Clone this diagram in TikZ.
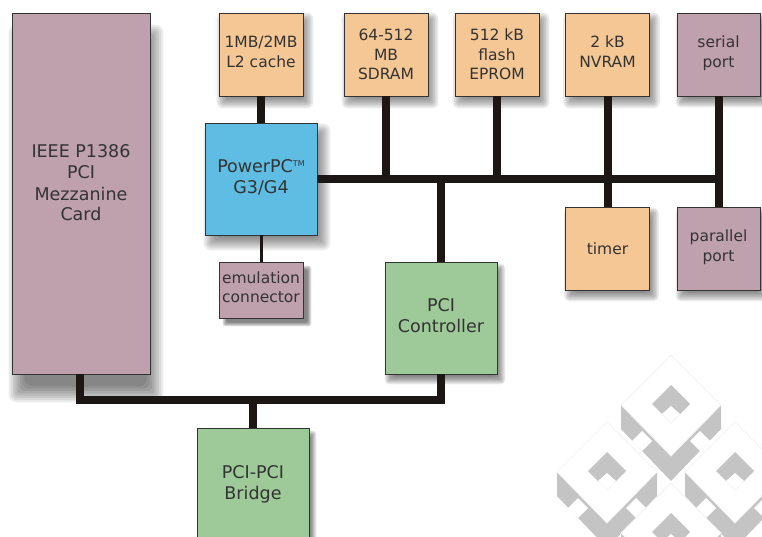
\documentclass[tikz,border=0pt]{standalone}
\usepackage{fontspec}
\setmainfont{DejaVu Sans}
\usetikzlibrary{backgrounds}
\definecolor{mauve}{HTML}{BFA0AD}
\definecolor{peach}{HTML}{F4C795}
\definecolor{skyb}{HTML}{5FBCE2}
\definecolor{leaf}{HTML}{9DCA98}
\definecolor{ink}{HTML}{333333}
\definecolor{wm}{HTML}{C4C4C4}
\definecolor{wmedge}{HTML}{F2F2F2}
\definecolor{busblack}{HTML}{1C1614}
\tikzset{
  x=1pt,y=-1pt,
  boxbase/.style={draw=ink,line width=0.8pt,inner sep=0pt,align=center,text=ink,
    font=\fontsize{15.5}{19.5}\selectfont},
  bigtext/.style={font=\fontsize{17.5}{21}\selectfont},
  mauvebox/.style={boxbase,fill=mauve},
  peachbox/.style={boxbase,fill=peach},
  bluebox/.style={boxbase,fill=skyb},
  greenbox/.style={boxbase,fill=leaf},
  smallbox/.style={minimum width=84pt,minimum height=83pt},
  bigbox/.style={bigtext,minimum width=112pt,minimum height=112pt},
  bus/.style={line width=8pt,draw=busblack},
  thinbus/.style={line width=3pt,draw=busblack},
  wmface/.style={fill=white,draw=wmedge,line width=0.8pt},
  wmgray/.style={fill=wm},
  wmhole/.style={fill=white}
}
% soft shadow: node, dx, dy, blur
\newcommand{\softshadow}[4]{%
  \foreach \k in {0,...,7}{%
    \pgfmathsetmacro{\rr}{#4*(1-\k/3.5)}%
    \fill[black,opacity=0.08,rounded corners={max(abs(\rr),0)*1pt+0.5pt}]
      ([shift={(#2-\rr,#3-\rr)}]#1.north west) rectangle ([shift={(#2+\rr,#3+\rr)}]#1.south east);
  }%
}
% watermark block centred on a coordinate
\newcommand{\wmblock}[2]{%
  \begin{scope}[shift={(#1,#2)}]
    \fill[wmgray] (-50,0) -- (-50,24) -- (0,76) -- (50,24) -- (50,0) -- cycle;
    \fill[white] (-39,36) -- (-29,26) -- (-19,36) -- (-29,46) -- cycle;
    \fill[white] (39,36) -- (29,26) -- (19,36) -- (29,46) -- cycle;
    \draw[wmface] (0,-50) -- (50,0) -- (0,51) -- (-50,0) -- cycle;
    \fill[wmgray] (0,-20) -- (19,-1) -- (0,18) -- (-19,-1) -- cycle;
    \fill[wmhole] (0,1) -- (9,9) -- (0,18) -- (-9,9) -- cycle;
  \end{scope}
}
\begin{document}
\begin{tikzpicture}
\clip (0,0) rectangle (762,536);
\node[mauvebox,bigtext,minimum width=138pt,minimum height=361pt] (ieee) at (81,193.5) {IEEE P1386\\PCI\\Mezzanine\\Card\\\mbox{}};
\node[peachbox,smallbox] (ltwo) at (261,54.5) {1MB/2MB\\L2 cache\\[-14pt]\mbox{}};
\node[peachbox,smallbox] (sdram) at (386,54.5) {64-512\\MB\\SDRAM};
\node[peachbox,smallbox] (flash) at (497,54.5) {512 kB\\flash\\EPROM};
\node[peachbox,smallbox] (nvram) at (607.5,54.5) {2 kB\\NVRAM\\[-14pt]\mbox{}};
\node[mauvebox,minimum width=83pt,minimum height=83pt] (serial) at (718.5,54.5) {serial\\port\\[-14pt]\mbox{}};
\node[peachbox,smallbox] (timer) at (607.5,248.5) {timer};
\node[mauvebox,minimum width=83pt,minimum height=83pt] (parallel) at (718.5,248.5) {parallel\\port\\[-14pt]\mbox{}};
\node[bluebox,bigbox] (ppc) at (261,179) {PowerPC\raisebox{6pt}{\fontsize{8}{8}\selectfont TM}\\G3/G4\\[-16pt]\mbox{}};
\node[mauvebox,minimum width=84pt,minimum height=56pt] (emu) at (261,290) {emulation\\connector\\[-14pt]\mbox{}};
\node[greenbox,bigbox] (pctrl) at (441,318) {PCI\\Controller\\[-16pt]\mbox{}};
\node[greenbox,bigbox] (bridge) at (253,484) {PCI-PCI\\Bridge};

\coordinate (busend) at (serial.south |- ppc.east);
\coordinate (lowbusL) at ([xshift=-1pt]ieee.south |- 0,400);
\coordinate (lowbusR) at (pctrl.south |- 0,400);

\draw[bus] (ppc.east) -- (busend);
\draw[bus] (ltwo.south) -- (ppc.north);
\draw[bus] (sdram.south) -- (sdram.south |- busend);
\draw[bus] (flash.south) -- (flash.south |- busend);
\draw[bus] (nvram.south) -- (timer.north);
\draw[bus] (serial.south) -- (parallel.north);
\draw[bus] (pctrl.north) -- (pctrl.north |- busend);
\draw[thinbus] (ppc.south) -- (emu.north);
\draw[bus,line join=miter] ([xshift=-1pt]ieee.south) -- (lowbusL) -- (lowbusR) -- (pctrl.south);
\draw[bus] (bridge.north) -- (bridge.north |- lowbusL);

\begin{pgfonlayer}{background}
  \wmblock{671}{405}
  \wmblock{607}{472}
  \wmblock{735}{472}
  \wmblock{671}{533}
  \softshadow{ieee}{5}{20}{8}
  \softshadow{ppc}{6}{8}{7}
  \softshadow{ltwo}{4}{6}{6}
  \softshadow{sdram}{4}{6}{6}
  \softshadow{flash}{4}{6}{6}
  \softshadow{nvram}{4}{6}{6}
  \softshadow{serial}{4}{6}{5}
  \softshadow{timer}{4}{6}{5}
  \softshadow{parallel}{4}{6}{5}
  \softshadow{emu}{6}{6}{2}
  \softshadow{pctrl}{4}{6}{4}
  \softshadow{bridge}{4}{6}{3}
\end{pgfonlayer}
\end{tikzpicture}
\end{document}
